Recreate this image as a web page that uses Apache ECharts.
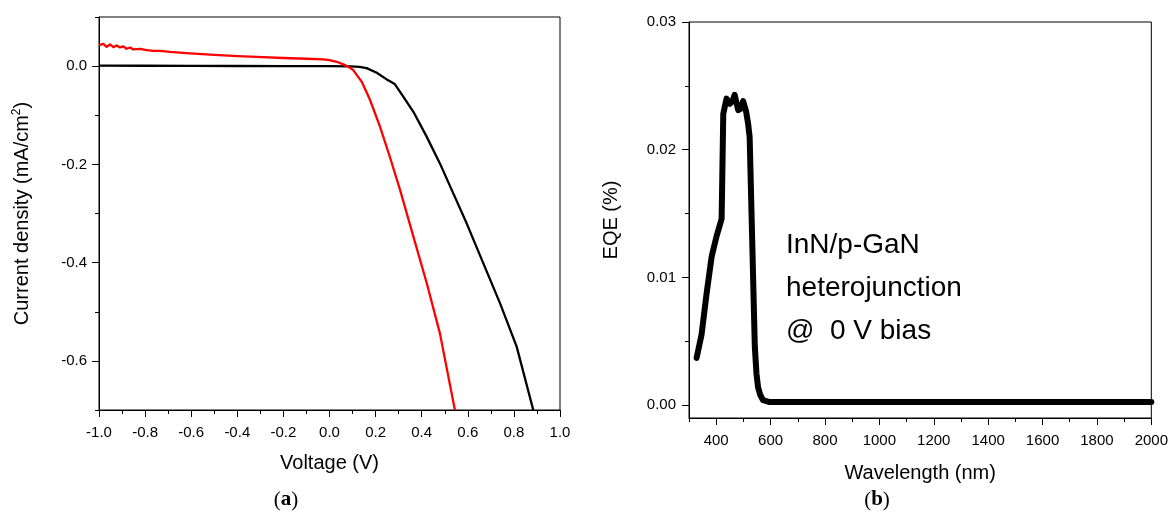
<!DOCTYPE html>
<html>
<head>
<meta charset="utf-8">
<script src="https://cdn.jsdelivr.net/npm/echarts@6/dist/echarts.min.js"></script>
<style>
html,body{margin:0;padding:0;background:#fff;}
#chart{width:1171px;height:512px;}
</style>
</head>
<body>
<div id="chart"></div>
<script>
// ---- Data ----
const blackV = [-1.0, -0.8, -0.6, -0.4, -0.2, 0.0, 0.09, 0.13, 0.161, 0.205, 0.248, 0.27, 0.284, 0.32, 0.364, 0.422, 0.479, 0.537, 0.595, 0.667, 0.740, 0.812, 0.884];
const blackJ = [0.001, 0.0008, 0.0005, 0.0003, 0.0002, 0.0, -0.0005, -0.0015, -0.004, -0.0136, -0.027, -0.033, -0.037, -0.062, -0.093, -0.144, -0.198, -0.259, -0.32, -0.401, -0.483, -0.571, -0.70];

const redV = [-1.0, -0.981, -0.967, -0.952, -0.938, -0.923, -0.909, -0.894, -0.880, -0.865, -0.851, -0.822, -0.793, -0.764, -0.735, -0.692, -0.605, -0.5, -0.4, -0.316, -0.2, -0.1, -0.027, 0.0, 0.031, 0.06, 0.08, 0.103, 0.14, 0.176, 0.219, 0.262, 0.306, 0.364, 0.422, 0.479, 0.544];
const redJ = [0.0427, 0.0454, 0.0393, 0.0441, 0.0387, 0.042, 0.038, 0.040, 0.0353, 0.038, 0.034, 0.0353, 0.0326, 0.031, 0.031, 0.029, 0.026, 0.023, 0.0205, 0.019, 0.0165, 0.015, 0.0136, 0.012, 0.0088, 0.0035, -0.001, -0.008, -0.032, -0.069, -0.123, -0.185, -0.252, -0.347, -0.442, -0.544, -0.70];

const eqeNm  = [328, 346, 365, 383, 401, 420, 426, 438, 450, 460, 468, 481, 490, 499, 510, 517, 523, 533, 542, 548, 554, 562, 572, 597, 800, 1200, 1600, 2000];
const eqeVal = [0.0037, 0.0055, 0.0088, 0.0116, 0.0132, 0.0146, 0.0228, 0.0240, 0.0236, 0.0238, 0.0243, 0.0231, 0.0232, 0.0238, 0.0230, 0.0221, 0.0210, 0.0124, 0.0046, 0.0025, 0.0014, 0.0008, 0.0004, 0.00025, 0.00025, 0.00025, 0.00025, 0.00025];

// Tick values / labels
const ivXTicks = [-1.0, -0.8, -0.6, -0.4, -0.2, 0.0, 0.2, 0.4, 0.6, 0.8, 1.0];
const ivXMinor = [-0.9, -0.7, -0.5, -0.3, -0.1, 0.1, 0.3, 0.5, 0.7, 0.9];
const ivYTicks = [-0.6, -0.4, -0.2, 0.0];
const ivYMinor = [-0.7, -0.5, -0.3, -0.1, 0.1];
const wlTicks  = [400, 600, 800, 1000, 1200, 1400, 1600, 1800, 2000];
const wlMinor  = [300, 500, 700, 900, 1100, 1300, 1500, 1700, 1900];
const eqeTicks = [0.00, 0.01, 0.02, 0.03];
const eqeMinor = [0.005, 0.015, 0.025];

const annotation = ['InN/p-GaN', 'heterojunction', '@  0 V bias'];

// ---- Build ----
const zip = (a, b) => a.map((v, i) => [v, b[i]]);
const FONT = 'Liberation Sans, Arial, sans-serif';
const lbl = {color: '#000', fontSize: 15, fontFamily: FONT};

function majorAxis(extra) {
  return Object.assign({
    type: 'value',
    splitLine: {show: false},
    axisLine: {show: true, onZero: false, lineStyle: {color: '#000', width: 1}},
    nameTextStyle: {color: '#000', fontSize: 20, fontFamily: FONT},
    nameLocation: 'middle'
  }, extra);
}
function minorAxis(extra, vals) {
  return Object.assign({
    type: 'value',
    splitLine: {show: false},
    axisLine: {show: false, onZero: false},
    axisLabel: {show: false},
    axisTick: {show: true, inside: false, length: 4, customValues: vals, lineStyle: {color: '#000', width: 1}}
  }, extra);
}

const option = {
  backgroundColor: '#fff',
  animation: false,
  textStyle: {fontFamily: FONT},
  grid: [
    {left: 99, top: 17, width: 461, height: 393, show: true, borderColor: '#000', borderWidth: 1, backgroundColor: 'transparent'},
    {left: 689, top: 22, width: 464, height: 396, show: true, borderColor: '#000', borderWidth: 1, backgroundColor: 'transparent'}
  ],
  xAxis: [
    majorAxis({gridIndex: 0, position: 'bottom', min: -1, max: 1,
      name: 'Voltage (V)', nameGap: 43,
      axisTick: {show: true, inside: false, length: 7, customValues: ivXTicks, lineStyle: {color: '#000'}},
      axisLabel: Object.assign({customValues: ivXTicks, margin: 15, formatter: v => v.toFixed(1)}, lbl)}),
    minorAxis({gridIndex: 0, position: 'bottom', min: -1, max: 1}, ivXMinor),
    majorAxis({gridIndex: 1, position: 'bottom', min: 300, max: 2000,
      name: 'Wavelength (nm)', nameGap: 45,
      axisTick: {show: true, inside: false, length: 7, customValues: wlTicks, lineStyle: {color: '#000'}},
      axisLabel: Object.assign({customValues: wlTicks, margin: 15, formatter: v => String(Math.round(v))}, lbl)}),
    minorAxis({gridIndex: 1, position: 'bottom', min: 300, max: 2000}, wlMinor)
  ],
  yAxis: [
    majorAxis({gridIndex: 0, position: 'left', min: -0.7, max: 0.1,
      name: 'Current density (mA/cm{sup|2})', nameGap: 66,
      nameTextStyle: {color: '#000', fontSize: 20, fontFamily: FONT, lineHeight: 22,
        rich: {sup: {fontSize: 12, fontFamily: FONT, color: '#000', verticalAlign: 'top', padding: [0, 0, 10, 0]}}},
      axisTick: {show: true, inside: false, length: 7, customValues: ivYTicks, lineStyle: {color: '#000'}},
      axisLabel: Object.assign({customValues: ivYTicks, margin: 12, formatter: v => v.toFixed(1)}, lbl)}),
    minorAxis({gridIndex: 0, position: 'left', min: -0.7, max: 0.1}, ivYMinor),
    majorAxis({gridIndex: 1, position: 'left', min: -0.001, max: 0.03,
      name: 'EQE (%)', nameGap: 68,
      axisTick: {show: true, inside: false, length: 7, customValues: eqeTicks, lineStyle: {color: '#000'}},
      axisLabel: Object.assign({customValues: eqeTicks, margin: 13, formatter: v => v.toFixed(2)}, lbl)}),
    minorAxis({gridIndex: 1, position: 'left', min: -0.001, max: 0.03}, eqeMinor)
  ],
  series: [
    {type: 'line', xAxisIndex: 0, yAxisIndex: 0, data: zip(blackV, blackJ), showSymbol: false, symbol: 'none',
      lineStyle: {color: '#000', width: 2.3, join: 'round'}, z: 3},
    {type: 'line', xAxisIndex: 0, yAxisIndex: 0, data: zip(redV, redJ), showSymbol: false, symbol: 'none',
      lineStyle: {color: '#ff0000', width: 2.3, join: 'round'}, z: 4},
    {type: 'line', xAxisIndex: 2, yAxisIndex: 2, data: zip(eqeNm, eqeVal), showSymbol: false, symbol: 'none',
      lineStyle: {color: '#000', width: 6, join: 'round', cap: 'round'}, z: 3}
  ],
  graphic: [
    {type: 'text', x: 786, y: 288, style: {text: annotation.join('\n'), fill: '#000',
      fontSize: 28, fontFamily: FONT, lineHeight: 43, textAlign: 'left', textVerticalAlign: 'middle'}},
    {type: 'text', x: 286, y: 500, style: {text: '{p|(}{b|a}{p|)}', textAlign: 'center', textVerticalAlign: 'middle',
      rich: {p: {fontSize: 21, fontFamily: 'Liberation Serif, serif', fill: '#000'},
             b: {fontSize: 21, fontFamily: 'Liberation Serif, serif', fontWeight: 'bold', fill: '#000'}}}},
    {type: 'text', x: 877, y: 500, style: {text: '{p|(}{b|b}{p|)}', textAlign: 'center', textVerticalAlign: 'middle',
      rich: {p: {fontSize: 21, fontFamily: 'Liberation Serif, serif', fill: '#000'},
             b: {fontSize: 21, fontFamily: 'Liberation Serif, serif', fontWeight: 'bold', fill: '#000'}}}}
  ]
};

const chart = echarts.init(document.getElementById('chart'), null, {renderer: 'canvas'});
chart.setOption(option);
</script>
</body>
</html>
